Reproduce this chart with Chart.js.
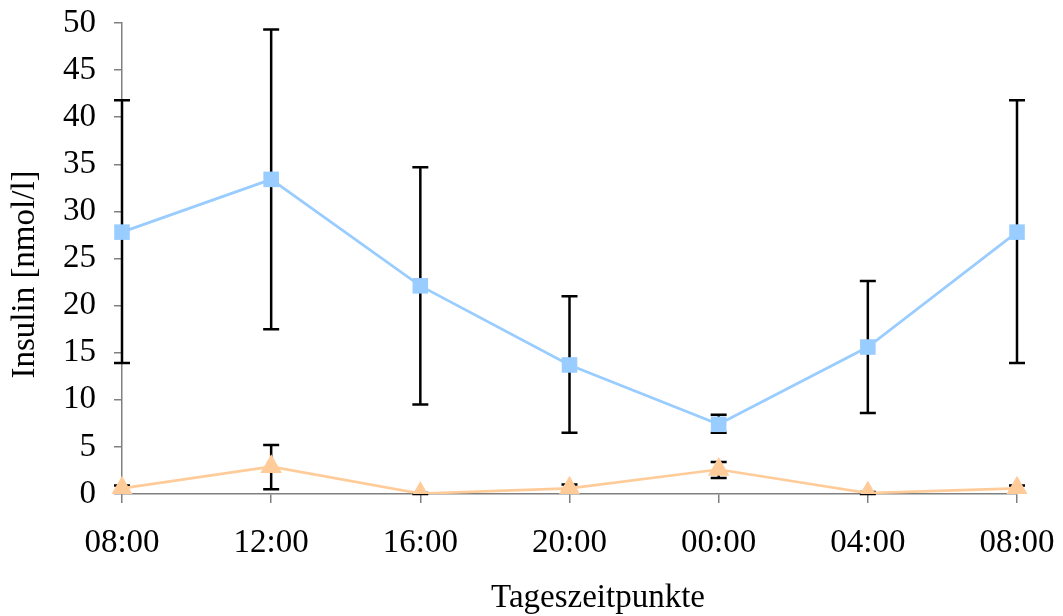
<!DOCTYPE html>
<html>
<head>
<meta charset="utf-8">
<script src="https://cdn.jsdelivr.net/npm/chart.js@4.4.0/dist/chart.umd.min.js"></script>
<style>
  html, body { margin: 0; padding: 0; background: #fff; }
  #wrap { width: 1063px; height: 616px; }
</style>
</head>
<body>
<div id="wrap"><canvas id="c"></canvas></div>
<script>
'use strict';
// Insulin im Tagesverlauf, Mittelwert ± Fehler (nmol/l)
const labels = ['08:00', '12:00', '16:00', '20:00', '00:00', '04:00', '08:00'];

const blueMean = [27.8, 33.4, 22.1, 13.7, 7.4, 15.6, 27.8];
const blueHigh = [41.8, 49.3, 34.7, 21.0, 8.4, 22.6, 41.8];
const blueLow  = [13.9, 17.5, 9.5, 6.5, 6.5, 8.6, 13.9];

const orangeMean = [0.6, 2.9, 0.05, 0.6, 2.6, 0.1, 0.6];
const orangeHigh = [0.9, 5.2, 0.1, 1.0, 3.4, 0.2, 0.9];
const orangeLow  = [0.3, 0.5, 0.0, 0.3, 1.7, 0.0, 0.3];

const yTicks = [0, 5, 10, 15, 20, 25, 30, 35, 40, 45, 50];
const xTitle = 'Tageszeitpunkte';
const yTitle = 'Insulin [nmol/l]';

const FONT = '"Liberation Serif", "Times New Roman", serif';
const AXIS = '#808080';

// Fehlerbalken: senkrechte Linie + Querstriche, hinter den Markern
const errorBars = {
  id: 'errorBars',
  beforeDatasetsDraw(chart) {
    const { ctx } = chart;
    const x = chart.scales.x, y = chart.scales.y;
    const sets = [[blueHigh, blueLow], [orangeHigh, orangeLow]];
    ctx.save();
    ctx.strokeStyle = '#000';
    ctx.lineWidth = 2.5;
    sets.forEach(([hi, lo]) => {
      hi.forEach((h, i) => {
        const px = x.getPixelForValue(i);
        const pt = y.getPixelForValue(h), pb = y.getPixelForValue(lo[i]);
        ctx.beginPath();
        ctx.moveTo(px, pt); ctx.lineTo(px, pb);
        ctx.moveTo(px - 8, pt); ctx.lineTo(px + 8, pt);
        ctx.moveTo(px - 8, pb); ctx.lineTo(px + 8, pb);
        ctx.stroke();
      });
    });
    ctx.restore();
  },
};

// Achsentitel wie im Original etwas versetzt
const axisTitles = {
  id: 'axisTitles',
  afterDraw(chart) {
    const { ctx, chartArea: a } = chart;
    ctx.save();
    ctx.fillStyle = '#000';
    ctx.font = '33px ' + FONT;
    ctx.textAlign = 'center';
    ctx.textBaseline = 'middle';
    ctx.fillText(xTitle, 598, 598);
    ctx.translate(25, (a.top + a.bottom) / 2 + 16);
    ctx.rotate(-Math.PI / 2);
    ctx.fillText(yTitle, 0, 0);
    ctx.restore();
  },
};

new Chart(document.getElementById('c'), {
  type: 'line',
  data: {
    labels,
    datasets: [
      { data: blueMean, borderColor: '#99CCFF', backgroundColor: '#99CCFF', borderWidth: 2.7,
        pointStyle: 'rect', pointRadius: 11, pointBorderWidth: 0, tension: 0 },
      { data: orangeMean, borderColor: '#FFCC99', backgroundColor: '#FFCC99', borderWidth: 2.7,
        pointStyle: 'triangle', pointRadius: 12.5, pointBorderWidth: 0, tension: 0 },
    ],
  },
  plugins: [errorBars, axisTitles],
  options: {
    responsive: true,
    maintainAspectRatio: false,
    animation: false,
    layout: { padding: { top: 23, right: 46, left: 0, bottom: 0 } },
    plugins: { legend: { display: false }, tooltip: { enabled: false } },
    scales: {
      x: {
        type: 'category',
        offset: false,
        border: { color: AXIS, width: 1.5 },
        grid: { drawOnChartArea: false, drawTicks: true, tickLength: 9, color: AXIS, lineWidth: 1.5 },
        ticks: { color: '#000', font: { family: FONT, size: 33 }, padding: 21, maxRotation: 0, autoSkip: false },
        afterFit(s) { s.height = 122; s.paddingLeft = 0; s.paddingRight = 0; },
      },
      y: {
        min: 0, max: 50,
        afterBuildTicks(s) { s.ticks = yTicks.map(v => ({ value: v })); },
        border: { color: AXIS, width: 1.5 },
        grid: { drawOnChartArea: false, drawTicks: true, tickLength: 8, color: AXIS, lineWidth: 1.5 },
        ticks: { color: '#000', font: { family: FONT, size: 33 }, padding: 18 },
        afterFit(s) { s.width = 122; s.paddingTop = 0; s.paddingBottom = 0; },
      },
    },
  },
});
</script>
</body>
</html>
